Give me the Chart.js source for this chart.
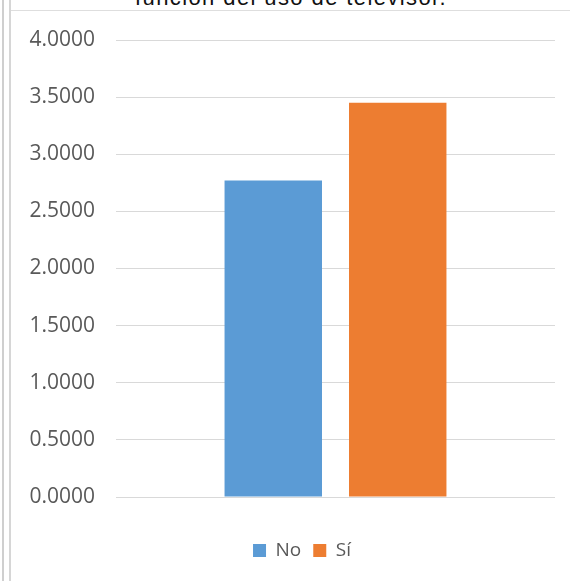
<!DOCTYPE html>
<html>
<head>
<meta charset="utf-8">
<script src="https://cdn.jsdelivr.net/npm/chart.js@4"></script>
<style>
  html, body { margin: 0; padding: 0; background: #fff; }
  body { width: 570px; height: 581px; position: relative; overflow: hidden; }
  .frame-outer { position: absolute; left: 2px; top: 0; width: 2px; height: 581px; background: #cfcfcf; }
  .frame-inner { position: absolute; left: 9px; top: 0; width: 2px; height: 581px; background: #d6d6d6; }
  .frame-top { position: absolute; left: 11px; top: 10px; width: 559px; height: 1px; background: #dedede; }
  .title {
    position: absolute; left: 135px; top: -13px; width: 330px;
    font: 22px "Liberation Sans", Arial, sans-serif; line-height: 22px;
    letter-spacing: 1.4px; color: #111; white-space: nowrap;
  }
  .chart-box { position: absolute; left: 12px; top: 12px; width: 558px; height: 569px; }
</style>
</head>
<body>
<div class="frame-outer"></div>
<div class="frame-inner"></div>
<div class="frame-top"></div>
<div class="title">función del uso de televisor.</div>
<div class="chart-box"><canvas id="tvChart"></canvas></div>
<script>
const categories = [''];
const seriesNames = ['No', 'Sí'];
const noValues = [2.77];
const siValues = [3.45];
const yTicks = [0, 0.5, 1, 1.5, 2, 2.5, 3, 3.5, 4];

const textColor = '#595959';
const fontFamily = '"Open Sans", "Liberation Sans", sans-serif';
const legendCenterX = 290;

// keep the legend centred under the whole frame rather than the plot area
const legendShift = {
  id: 'legendShift',
  afterLayout(chart) {
    const lg = chart.legend;
    if (!lg) return;
    const dx = legendCenterX - (lg.left + lg.right) / 2;
    lg.left += dx;
    lg.right += dx;
  }
};

const ctx = document.getElementById('tvChart').getContext('2d');
const tvChart = new Chart(ctx, {
  type: 'bar',
  data: {
    labels: categories,
    datasets: [
      { label: seriesNames[0], data: noValues, backgroundColor: '#5B9BD5' },
      { label: seriesNames[1], data: siValues, backgroundColor: '#ED7D31' }
    ]
  },
  options: {
    responsive: true,
    maintainAspectRatio: false,
    animation: false,
    categoryPercentage: 0.567,
    barPercentage: 0.783,
    layout: { padding: { left: 14, right: 15, top: 28, bottom: 11 } },
    scales: {
      x: {
        grid: { display: false },
        border: { display: false },
        ticks: { display: false },
        afterFit: scale => { scale.height = 32; }
      },
      y: {
        min: yTicks[0],
        max: yTicks[yTicks.length - 1],
        afterBuildTicks: scale => { scale.ticks = yTicks.map(v => ({ value: v })); },
        afterFit: scale => {
          scale.width = 90;
          scale.paddingTop = 0;
          scale.paddingBottom = 0;
        },
        grid: { color: '#d9d9d9', lineWidth: 1, drawTicks: false },
        border: { display: false },
        ticks: {
          padding: 21,
          color: textColor,
          font: { family: fontFamily, size: 21 },
          callback: v => Number(v).toFixed(4)
        }
      }
    },
    plugins: {
      title: { display: false },
      tooltip: { enabled: false },
      legend: {
        position: 'bottom',
        labels: {
          boxWidth: 13,
          boxHeight: 13,
          padding: 12,
          color: textColor,
          font: { family: fontFamily, size: 19 }
        }
      }
    }
  },
  plugins: [legendShift]
});
</script>
</body>
</html>
